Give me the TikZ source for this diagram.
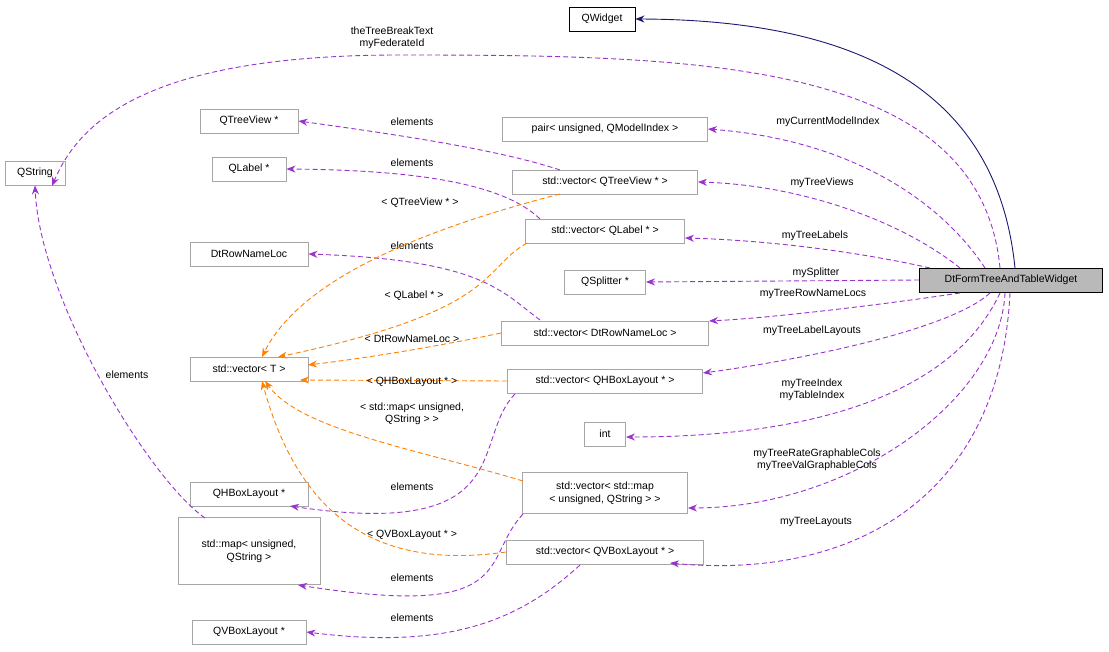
\documentclass[tikz,border=0pt]{standalone}
\usepackage{fontspec}
\setmainfont{Liberation Sans}
\usetikzlibrary{arrows.meta}
\begin{document}
\begin{tikzpicture}[x=1pt,y=-1pt,line width=0.9pt,
  box/.style={draw=gray!70,fill=white,inner sep=0pt,minimum height=24,font=\fontsize{10.5}{13}\selectfont,align=center},
  lbl/.style={font=\fontsize{10.5}{12.5}\selectfont,align=center,inner sep=1pt},
  mem/.style={draw={rgb,255:red,154;green,50;blue,205},dash pattern=on 5pt off 3pt,-{Stealth[length=9pt,width=7pt]}},
  tpl/.style={draw=orange,dash pattern=on 5pt off 3pt,-{Stealth[length=9pt,width=7pt]}},
  inh/.style={draw={rgb,255:red,25;green,25;blue,112},-{Stealth[length=9pt,width=7pt]}}]
\useasboundingbox (0,0) rectangle (1109,652);
\node[box,draw=black,minimum width=66] (qw) at (602,19) {QWidget};
\node[box,minimum width=60] (qs) at (35,173) {QString};
\node[box,minimum width=98] (qtv) at (249,121) {QTreeView *};
\node[box,minimum width=74] (ql) at (249,169) {QLabel *};
\node[box,minimum width=118] (drn) at (249,254) {DtRowNameLoc};
\node[box,minimum width=118] (vt) at (249,369) {std::vector< T >};
\node[box,minimum width=118] (qhb) at (249,494) {QHBoxLayout *};
\node[box,minimum width=142,minimum height=67] (smap) at (249,551) {std::map< unsigned,\\QString >};
\node[box,minimum width=114] (qvb) at (249,632) {QVBoxLayout *};
\node[box,minimum width=205] (pair) at (605,129) {pair< unsigned, QModelIndex >};
\node[box,minimum width=185] (vtv) at (605,182) {std::vector< QTreeView * >};
\node[box,minimum width=159] (vql) at (605,231) {std::vector< QLabel * >};
\node[box,minimum width=81] (qsp) at (605,282) {QSplitter *};
\node[box,minimum width=207] (vdrn) at (605,333) {std::vector< DtRowNameLoc >};
\node[box,minimum width=195] (vqhb) at (605,381) {std::vector< QHBoxLayout * >};
\node[box,minimum width=41] (int) at (605,434) {int};
\node[box,minimum width=165,minimum height=41] (vmap) at (605,493) {std::vector< std::map\\< unsigned, QString > >};
\node[box,minimum width=197] (vqvb) at (605,552) {std::vector< QVBoxLayout * >};
\node[box,draw=black,fill=gray!55,minimum width=183] (main) at (1011,280) {DtFormTreeAndTableWidget};

\draw[inh] (1015,268) .. controls (1000,120) and (900,20) .. (qw.east);
\draw[mem] (1000,268) .. controls (980,60) and (700,55) .. (400,55) .. controls (150,55) and (80,120) .. (52,186);
\node[lbl] at (392,38) {theTreeBreakText\\myFederateId};
\draw[mem] (985,268) .. controls (940,200) and (850,140) .. (pair.east);
\node[lbl] at (828,122) {myCurrentModelIndex};
\draw[mem] (960,268) .. controls (900,220) and (800,185) .. (vtv.east);
\node[lbl] at (822,183) {myTreeViews};
\draw[mem] (930,268) .. controls (850,250) and (760,240) .. (685,238);
\node[lbl] at (815,236) {myTreeLabels};
\draw[mem] (main.west) -- (qsp.east);
\node[lbl] at (816,273) {mySplitter};
\draw[mem] (960,293) .. controls (880,305) and (770,318) .. (709,321);
\node[lbl] at (813,294) {myTreeRowNameLocs};
\draw[mem] (990,293) .. controls (950,330) and (800,360) .. (703,373);
\node[lbl] at (812,331) {myTreeLabelLayouts};
\draw[mem] (1000,293) .. controls (950,400) and (800,437) .. (626,437);
\node[lbl] at (812,390) {myTreeIndex\\myTableIndex};
\draw[mem] (1005,293) .. controls (1000,400) and (850,508) .. (688,508);
\node[lbl] at (817,460) {myTreeRateGraphableCols\\myTreeValGraphableCols};
\draw[mem] (1010,293) .. controls (1000,500) and (850,580) .. (670,563);
\node[lbl] at (816,522) {myTreeLayouts};

\draw[mem] (560,170) .. controls (500,150) and (400,135) .. (qtv.east);
\node[lbl] at (412,122) {elements};
\draw[mem] (540,219) .. controls (500,180) and (400,170) .. (ql.east);
\node[lbl] at (412,163) {elements};
\draw[mem] (540,320) .. controls (500,290) and (480,260) .. (drn.east);
\node[lbl] at (412,246) {elements};
\draw[mem] (515,394) .. controls (470,440) and (520,540) .. (290,506);
\node[lbl] at (412,487) {elements};
\draw[mem] (523,514) .. controls (480,560) and (520,620) .. (298,585);
\node[lbl] at (412,578) {elements};
\draw[mem] (580,565) .. controls (520,620) and (450,650) .. (qvb.east);
\node[lbl] at (412,618) {elements};
\draw[mem] (205,518) .. controls (150,480) and (40,300) .. (qs.south);
\node[lbl,fill=white] at (127,375) {elements};

\draw[tpl] (560,194) .. controls (420,230) and (300,280) .. (262,357);
\node[lbl] at (420,203) {< QTreeView * >};
\draw[tpl] (527,243) .. controls (480,270) and (500,310) .. (278,357);
\node[lbl] at (414,296) {< QLabel * >};
\draw[tpl] (vdrn.west) .. controls (420,350) and (350,360) .. (308,365);
\node[lbl] at (412,339) {< DtRowNameLoc >};
\draw[tpl] (vqhb.west) -- (300,380);
\node[lbl] at (412,382) {< QHBoxLayout * >};
\draw[tpl] (523,481) .. controls (420,450) and (300,430) .. (265,381);
\node[lbl] at (412,414) {< std::map< unsigned,\\QString > >};
\draw[tpl] (vqvb.west) .. controls (380,570) and (300,520) .. (262,381);
\node[lbl] at (412,535) {< QVBoxLayout * >};
\end{tikzpicture}
\end{document}
